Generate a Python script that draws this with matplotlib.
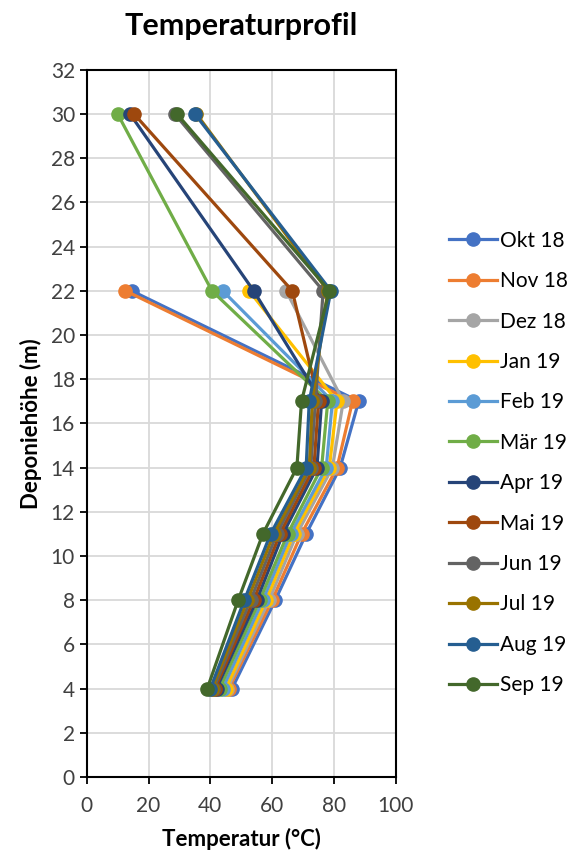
import matplotlib
matplotlib.use('Agg')
import matplotlib.pyplot as plt
import numpy as np

plt.rcParams['font.family'] = ['Lato', 'DejaVu Sans']

heights = [4, 8, 11, 14, 17, 22, 30]
labels = ['Okt 18', 'Nov 18', 'Dez 18', 'Jan 19', 'Feb 19', 'Mär 19',
          'Apr 19', 'Mai 19', 'Jun 19', 'Jul 19', 'Aug 19', 'Sep 19']
colors = ['#4472C4', '#ED7D31', '#A5A5A5', '#FFC000', '#5B9BD5', '#70AD47',
          '#264478', '#9E480E', '#636363', '#997300', '#255E91', '#43682B']

okt = [47, 61, 71, 82, 88, 14.5, np.nan]
nov = [46, 60, 69.5, 81, 86, 12.5, np.nan]
dez = [45.5, 59, 68, 79.5, 83, 64.5, np.nan]
jan = [45, 58, 67, 78.5, 81, 52.5, np.nan]
feb = [44, 57, 66, 77.5, 79.5, 44, np.nan]
maer = [43, 56, 65, 76, 78, 40.5, 10]
apr = [42, 55, 63.5, 74.5, 76, 54, 14]
mai = [41.5, 54, 62.5, 73.5, 75, 66.5, 15.3]
jun = [41, 53, 61.5, 72.5, 74, 76.5, 28.5]
jul = [40.5, 52, 60.5, 72, 73, 78, 35.5]
aug = [40, 51, 59.5, 71, 72, 79, 35]
sep = [39, 49, 57, 68, 69.5, 78.5, 29.2]

series = [okt, nov, dez, jan, feb, maer, apr, mai, jun, jul, aug, sep]

fig = plt.figure(figsize=(5.67, 8.51), dpi=100)
ax = fig.add_axes([0.153, 0.087, 0.545, 0.831])

for vals, lab, col in zip(series, labels, colors):
    v = np.array(vals, dtype=float)
    h = np.array(heights, dtype=float)
    m = np.isfinite(v)
    ax.plot(v[m], h[m], '-o', color=col, lw=2.3, markersize=9.5, label=lab)

ax.set_xlim(0, 100)
ax.set_ylim(0, 32)
ax.set_xticks(np.arange(0, 101, 20))
ax.set_yticks(np.arange(0, 33, 2))
ax.grid(True, color='#D9D9D9', lw=1.3)
ax.set_axisbelow(True)
for s in ax.spines.values():
    s.set_color('black')
    s.set_linewidth(1.5)
ax.tick_params(axis='both', direction='out', length=5, width=1.3,
               labelsize=15, colors='black', labelcolor='#404040')
ax.tick_params(axis='x', pad=9)

ax.set_xlabel('Temperatur (°C)', fontsize=16, fontweight='bold', labelpad=8)
ax.set_ylabel('Deponiehöhe (m)', fontsize=16, fontweight='bold', labelpad=6)
fig.text(0.425, 0.97, 'Temperaturprofil', fontsize=22, fontweight='bold',
         ha='center', va='center')

leg = ax.legend(loc='center left', bbox_to_anchor=(1.145, 0.444), frameon=False,
                fontsize=15, labelspacing=0.98, handlelength=2.3,
                handletextpad=0.15, borderaxespad=0)

fig.savefig('out.png', dpi=100)
